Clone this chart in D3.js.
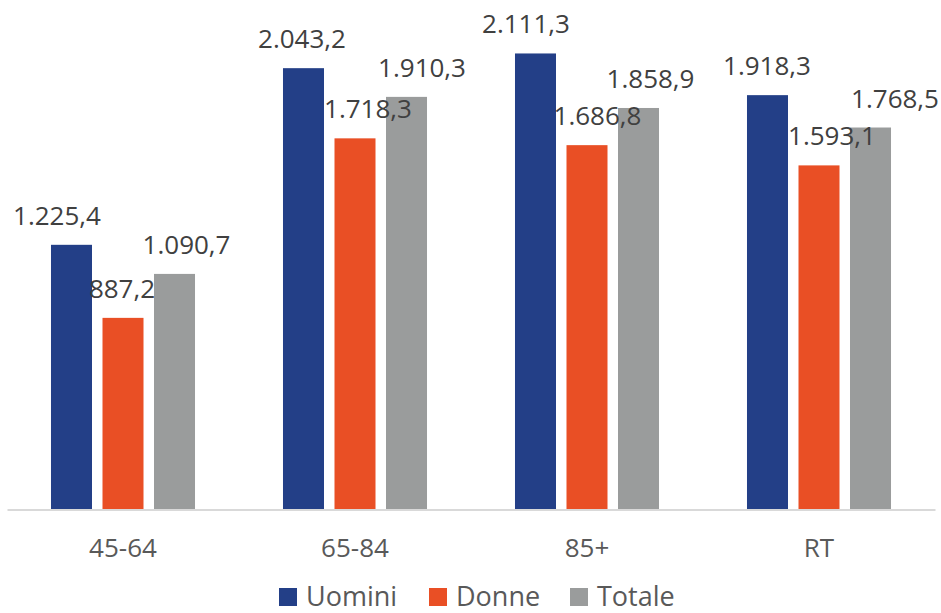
<!DOCTYPE html>
<html>
<head>
<meta charset="utf-8">
<script src="https://cdn.jsdelivr.net/npm/d3@7/dist/d3.min.js"></script>
<style>
  html, body { margin: 0; padding: 0; background: #fff; }
  svg { display: block; font-family: "Open Sans", sans-serif; }
</style>
</head>
<body>
<svg id="chart" width="941" height="613"></svg>
<script>
// ---- data ----
const categories = ["45-64", "65-84", "85+", "RT"];
const seriesNames = ["Uomini", "Donne", "Totale"];
const uomini = [1225.4, 2043.2, 2111.3, 1918.3];
const donne  = [887.2, 1718.3, 1686.8, 1593.1];
const totale = [1090.7, 1910.3, 1858.9, 1768.5];
const seriesValues = [uomini, donne, totale];
const seriesColors = ["#233f87", "#e94f25", "#9a9c9c"];
// manual horizontal nudges of data labels (as placed in the original), per series per category
const labelNudge = [
  [-14.5, -1.5, -9.5, -0.5],
  [-1, 13, 10.5, 13],
  [12, 15.5, 12, 24.5]
];

const fmt = v => {
  const parts = v.toFixed(1).split(".");
  return parts[0].replace(/\B(?=(\d{3})+(?!\d))/g, ".") + "," + parts[1];
};

const svg = d3.select("#chart");
const baseY = 509.5;

const x0 = d3.scaleBand().domain(categories).range([7, 935]).paddingInner(0).paddingOuter(0);
const x1 = d3.scaleBand().domain(seriesNames).range([0, x0.bandwidth()]).paddingInner(0.204).paddingOuter(0.854);
const y = d3.scaleLinear().domain([0, 2000]).range([baseY, baseY - 432]);

// bars
const rows = [];
seriesNames.forEach((s, si) => {
  categories.forEach((c, ci) => {
    rows.push({ s, si, c, ci, v: seriesValues[si][ci] });
  });
});

svg.append("g").selectAll("rect").data(rows).join("rect")
  .attr("x", d => x0(d.c) + x1(d.s))
  .attr("y", d => y(d.v))
  .attr("width", x1.bandwidth())
  .attr("height", d => y(0) - y(d.v))
  .attr("fill", d => seriesColors[d.si]);

// axis
const axis = svg.append("g")
  .attr("transform", `translate(0,${baseY})`)
  .call(d3.axisBottom(x0).tickSize(0).tickSizeOuter(0));
axis.select(".domain").attr("stroke", "#d9d9d9").attr("stroke-width", 2);
axis.selectAll("text")
  .attr("y", 47.5).attr("dy", 0)
  .attr("font-family", "'Open Sans', sans-serif")
  .attr("font-size", 26)
  .attr("fill", "#595959");

// data labels
svg.append("g").selectAll("text").data(rows).join("text")
  .attr("x", d => x0(d.c) + x1(d.s) + x1.bandwidth() / 2 + labelNudge[d.si][d.ci])
  .attr("y", d => y(d.v) - 20)
  .attr("text-anchor", "middle")
  .attr("font-size", 26)
  .attr("fill", "#404040")
  .text(d => fmt(d.v));

// legend
const legendX = [279, 429, 570];
const leg = svg.append("g").selectAll("g").data(seriesNames).join("g")
  .attr("transform", (d, i) => `translate(${legendX[i]},588)`);
leg.append("rect").attr("width", 18).attr("height", 18).attr("fill", (d, i) => seriesColors[i]);
leg.append("text").attr("x", 27).attr("y", 18)
  .attr("font-size", 27).attr("fill", "#595959").text(d => d);
</script>
</body>
</html>
